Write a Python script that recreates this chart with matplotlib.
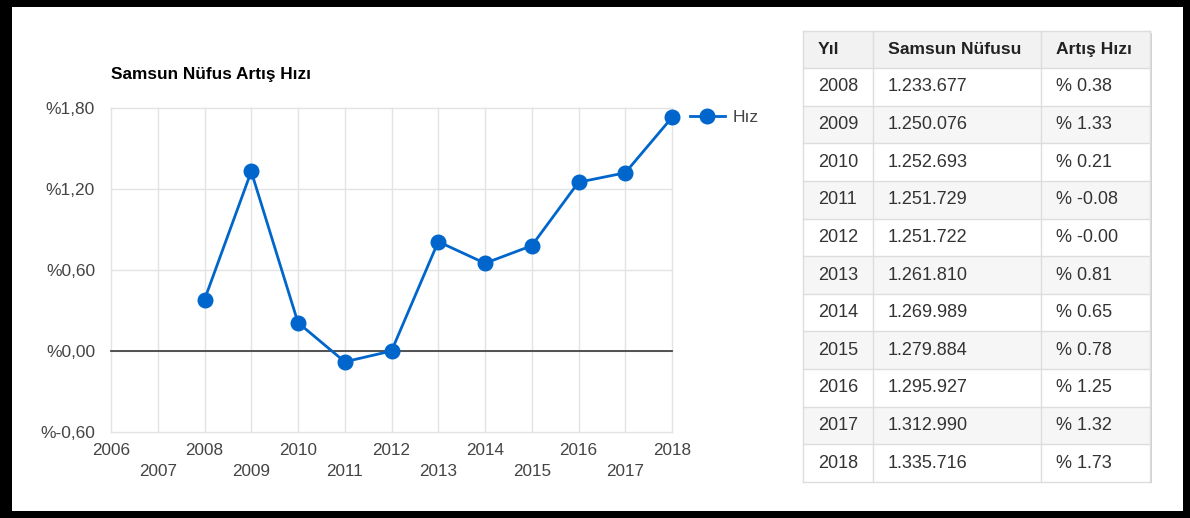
import numpy as np
import matplotlib
matplotlib.use('Agg')
from matplotlib import pyplot as plt
from matplotlib.patches import Rectangle

plt.rcParams['font.family'] = ['Liberation Sans', 'DejaVu Sans']

###### Data
years = [2008, 2009, 2010, 2011, 2012, 2013, 2014, 2015, 2016, 2017, 2018]
population = [1233677, 1250076, 1252693, 1251729, 1251722, 1261810,
              1269989, 1279884, 1295927, 1312990, 1335716]
growth = [0.38, 1.33, 0.21, -0.08, -0.0, 0.81, 0.65, 0.78, 1.25, 1.32, 1.73]
y_ticks = [-0.6, 0.0, 0.6, 1.2, 1.8]
x_years = list(range(2006, 2019))
headers = ['Yıl', 'Samsun Nüfusu', 'Artış Hızı']

W, H = 1190, 518
BLUE = '#0066cc'
fig = plt.figure(figsize=(W / 100, H / 100), dpi=100, facecolor='black')

# white card inside the black frame
fig.patches.append(Rectangle((12 / W, 7 / H), (1183 - 12) / W, (511 - 7) / H,
                             transform=fig.transFigure, facecolor='white',
                             edgecolor='none', zorder=-10))

###### Line chart
ax = fig.add_axes([111 / W, (H - 432) / H, (672 - 111) / W, (432 - 108) / H])
ax.set_facecolor('none')
ax.set_xlim(2006, 2018)
ax.set_ylim(-0.6, 1.8)
for s in ax.spines.values():
    s.set_visible(False)

for x in x_years:
    ax.axvline(x, color='#e3e3e3', lw=1, zorder=1, clip_on=False)
for y in y_ticks:
    ax.axhline(y, color='#e3e3e3', lw=1, zorder=1, clip_on=False)
ax.axhline(0, color='#444444', lw=1.3, zorder=2, clip_on=False)

line, = ax.plot(years, growth, color=BLUE, lw=2.0, marker='o', markersize=10.5,
                zorder=3, clip_on=False, label='Hız')

even = [x for x in x_years if x % 2 == 0]
odd = [x for x in x_years if x % 2 == 1]
ax.set_xticks(even)
ax.set_xticklabels([str(x) for x in even])
ax.set_xticks(odd, minor=True)
ax.set_xticklabels([str(x) for x in odd], minor=True)
ax.tick_params(axis='x', which='major', length=0, pad=8, labelsize=12.3, labelcolor='#444444')
ax.tick_params(axis='x', which='minor', length=0, pad=23, labelsize=12.3, labelcolor='#444444')

ax.set_yticks(y_ticks)
ax.set_yticklabels(['%' + ('%.2f' % v).replace('.', ',') for v in y_ticks])
ax.tick_params(axis='y', length=0, pad=11.5, labelsize=12.5, labelcolor='#444444')

ax.legend(handles=[line], loc='center left', bbox_to_anchor=(690 / W, 1 - 117 / H),
          bbox_transform=fig.transFigure, frameon=False, fontsize=12.5,
          handlelength=2.0, handletextpad=0.45, borderpad=0, borderaxespad=0,
          labelcolor='#444444')

###### Title and table drawn in pixel coordinates
ov = fig.add_axes([0, 0, 1, 1])
ov.set_xlim(0, W)
ov.set_ylim(H, 0)
ov.axis('off')
ov.patch.set_alpha(0)

ov.text(111, 74, 'Samsun Nüfus Artış Hızı', fontsize=12.4, fontweight='bold',
        color='black', ha='left', va='center')

col_x = [803, 873, 1041, 1150]
top, head_h = 31, 37
row_h = (482 - top - head_h) / len(years)
bottom = top + head_h + row_h * len(years)

# soft shadow
ov.add_patch(Rectangle((col_x[0] + 1.5, top + 1.5), col_x[-1] - col_x[0], bottom - top,
                       facecolor='#d0d0d0', edgecolor='none', zorder=1))
ov.add_patch(Rectangle((col_x[0], top), col_x[-1] - col_x[0], head_h,
                       facecolor='#f2f2f2', edgecolor='none', zorder=2))
for i in range(len(years)):
    y0 = top + head_h + i * row_h
    fc = '#f6f6f6' if i % 2 == 1 else 'white'
    ov.add_patch(Rectangle((col_x[0], y0), col_x[-1] - col_x[0], row_h,
                           facecolor=fc, edgecolor='none', zorder=2))

# grid lines of the table
for x in col_x:
    ov.plot([x, x], [top, bottom], color='#dddddd', lw=1, zorder=3)
for i in range(len(years) + 1):
    y = top + head_h + i * row_h
    ov.plot([col_x[0], col_x[-1]], [y, y], color='#dddddd', lw=1, zorder=3)
ov.plot([col_x[0], col_x[-1]], [top, top], color='#dddddd', lw=1, zorder=3)

for j, h in enumerate(headers):
    ov.text(col_x[j] + 15, top + head_h / 2, h, fontsize=12.6, fontweight='bold',
            color='#222222', ha='left', va='center', zorder=4)

for i, (yr, p, g) in enumerate(zip(years, population, growth)):
    yc = top + head_h + (i + 0.5) * row_h
    cells = [str(yr), f'{p:,}'.replace(',', '.'), f'% {g:.2f}']
    for j, c in enumerate(cells):
        ov.text(col_x[j] + 15, yc, c, fontsize=13, color='#333333',
                ha='left', va='center', zorder=4)

fig.savefig('out.png', dpi=100, facecolor=fig.get_facecolor())
